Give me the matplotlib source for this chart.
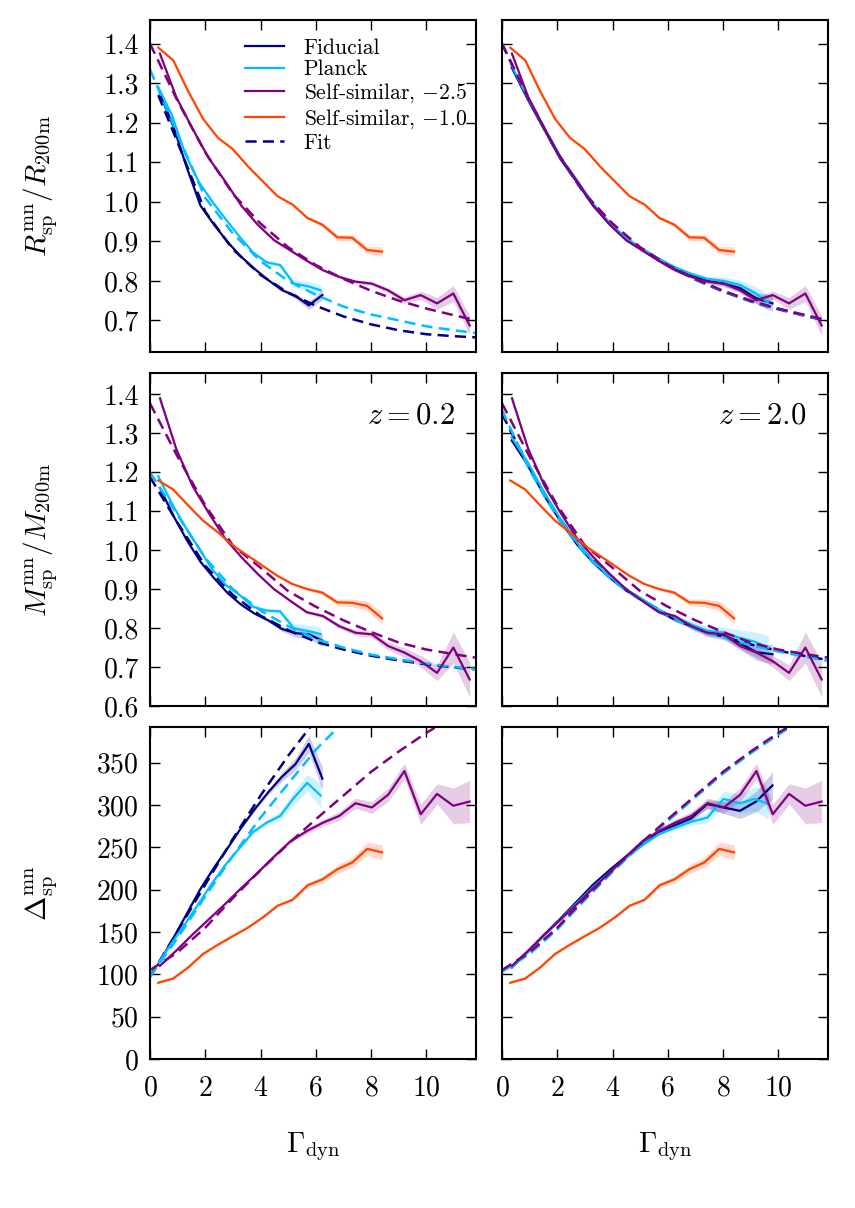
import matplotlib
matplotlib.use("Agg")
import matplotlib.pyplot as plt

plt.rcParams["font.family"] = "serif"
plt.rcParams["font.serif"] = ["cmr10"]
plt.rcParams["mathtext.fontset"] = "cm"
plt.rcParams["axes.formatter.use_mathtext"] = True
plt.rcParams["axes.unicode_minus"] = False
plt.rcParams["lines.scale_dashes"] = False

# --- x grids (Gamma_dyn bin centres) ---
x_fid_lo = [0.36, 0.85, 1.34, 1.83, 2.32, 2.81, 3.30, 3.79, 4.28, 4.77, 5.26, 5.75, 6.24]
x_pl_lo = [0.30, 0.79, 1.28, 1.77, 2.26, 2.75, 3.24, 3.73, 4.22, 4.71, 5.20, 5.69, 6.18]
x_hi = [0.35, 0.94, 1.53, 2.12, 2.71, 3.30, 3.89, 4.48, 5.07, 5.66, 6.25, 6.84, 7.43,
        8.02, 8.61, 9.20, 9.79]
x_pl_hi = [0.35, 0.94, 1.53, 2.12, 2.71, 3.30, 3.89, 4.48, 5.07, 5.66, 6.25, 6.84, 7.43,
           8.02, 8.61, 9.15, 9.64]
x_ss25 = [0.36, 0.95, 1.54, 2.13, 2.72, 3.31, 3.90, 4.49, 5.08, 5.67, 6.26, 6.85, 7.44,
          8.03, 8.62, 9.21, 9.80, 10.39, 10.98, 11.57]
x_ss10 = [0.30, 0.84, 1.38, 1.92, 2.46, 3.00, 3.54, 4.08, 4.62, 5.16, 5.70, 6.24, 6.78,
          7.32, 7.86, 8.40]
x_fit = [0, 1, 2, 3, 4, 5, 6, 7, 8, 9, 10, 11, 11.8]
x_fit_b = [0.3, 1, 2, 3, 4, 5, 6, 7, 8, 9, 10, 11, 11.8]

# --- R_sp / R_200m ---
fid_lo_R = [1.273, 1.19, 1.085, 0.99, 0.942, 0.898, 0.861, 0.83, 0.802, 0.777, 0.762, 0.738, 0.764]
fid_lo_R_err = [0.002] * 9 + [0.004, 0.006, 0.01, 0.012]
pl_lo_R = [1.29, 1.22, 1.12, 1.05, 1.00, 0.955, 0.912, 0.872, 0.847, 0.84, 0.793, 0.787, 0.776]
pl_lo_R_err = [0.002] * 8 + [0.004, 0.005, 0.01, 0.012, 0.013]
fid_hi_R = [1.34, 1.258, 1.183, 1.108, 1.05, 0.99, 0.944, 0.905, 0.878, 0.852, 0.83, 0.814,
            0.80, 0.793, 0.782, 0.756, 0.743]
fid_hi_R_err = [0.002] * 11 + [0.004, 0.006, 0.008, 0.01, 0.015, 0.02]
pl_hi_R = [1.345, 1.262, 1.188, 1.113, 1.055, 0.995, 0.948, 0.909, 0.882, 0.857, 0.835, 0.818,
           0.805, 0.80, 0.79, 0.77, 0.745]
pl_hi_R_err = [0.002] * 11 + [0.005, 0.007, 0.01, 0.012, 0.016, 0.02]
ss25_R = [1.375, 1.265, 1.185, 1.11, 1.052, 0.99, 0.942, 0.903, 0.877, 0.851, 0.827, 0.810,
          0.798, 0.793, 0.776, 0.751, 0.764, 0.743, 0.768, 0.687]
ss25_R_err = [0.003] * 12 + [0.004, 0.005, 0.006, 0.008, 0.01, 0.015, 0.02, 0.025]
ss10_R = [1.39, 1.358, 1.28, 1.21, 1.162, 1.133, 1.09, 1.052, 1.014, 0.993, 0.959, 0.942,
          0.91, 0.909, 0.878, 0.874]
ss10_R_err = [0.002] * 10 + [0.004, 0.005, 0.008, 0.008, 0.01, 0.012]

fit_fid_lo_R = [1.27, 1.15, 0.975, 0.88, 0.815, 0.77, 0.737, 0.71, 0.69, 0.675, 0.665, 0.66, 0.657]
fit_pl_lo_R = [1.335, 1.17, 1.01, 0.92, 0.85, 0.80, 0.765, 0.735, 0.715, 0.70, 0.685, 0.675, 0.668]
fit_ss25_R = [1.40, 1.255, 1.125, 1.02, 0.945, 0.885, 0.84, 0.805, 0.775, 0.75, 0.73, 0.713, 0.70]
fit_fid_hi_R = [1.40, 1.253, 1.123, 1.018, 0.943, 0.883, 0.838, 0.803, 0.773, 0.748, 0.728, 0.711, 0.698]
fit_pl_hi_R = [1.40, 1.254, 1.124, 1.019, 0.944, 0.884, 0.839, 0.804, 0.774, 0.749, 0.729, 0.712, 0.699]

# --- M_sp / M_200m ---
fid_lo_M = [1.16, 1.088, 1.025, 0.97, 0.928, 0.89, 0.86, 0.837, 0.82, 0.798, 0.787, 0.784, 0.768]
fid_lo_M_err = [0.002] * 8 + [0.004, 0.006, 0.01, 0.012, 0.015]
pl_lo_M = [1.19, 1.12, 1.06, 1.005, 0.95, 0.91, 0.885, 0.855, 0.845, 0.843, 0.80, 0.793, 0.785]
pl_lo_M_err = [0.002] * 8 + [0.005, 0.006, 0.012, 0.015, 0.018]
fid_hi_M = [1.282, 1.218, 1.14, 1.074, 1.015, 0.968, 0.93, 0.897, 0.871, 0.843, 0.822, 0.805,
            0.788, 0.782, 0.762, 0.738, 0.733]
fid_hi_M_err = [0.002] * 10 + [0.005, 0.007, 0.01, 0.012, 0.015, 0.02, 0.025]
pl_hi_M = [1.29, 1.225, 1.148, 1.08, 1.02, 0.972, 0.933, 0.90, 0.875, 0.848, 0.828, 0.81,
           0.793, 0.788, 0.775, 0.765, 0.75]
pl_hi_M_err = [0.002] * 10 + [0.006, 0.008, 0.012, 0.015, 0.02, 0.025, 0.03]
ss25_M = [1.39, 1.26, 1.165, 1.095, 1.03, 0.982, 0.939, 0.90, 0.870, 0.841, 0.831, 0.805,
          0.788, 0.784, 0.754, 0.737, 0.715, 0.685, 0.750, 0.668]
ss25_M_err = [0.01, 0.004, 0.003, 0.003, 0.003, 0.003, 0.003, 0.003, 0.003, 0.004, 0.005,
              0.006, 0.007, 0.008, 0.01, 0.012, 0.015, 0.02, 0.04, 0.045]
ss10_M = [1.179, 1.156, 1.115, 1.076, 1.046, 1.012, 0.986, 0.96, 0.934, 0.913, 0.90, 0.891,
          0.866, 0.865, 0.857, 0.825]
ss10_M_err = [0.002] * 10 + [0.004, 0.005, 0.008, 0.01, 0.012, 0.015]

fit_fid_lo_M = [1.188, 1.07, 0.96, 0.885, 0.832, 0.795, 0.765, 0.745, 0.729, 0.717, 0.707, 0.699, 0.694]
fit_pl_lo_M = [1.20, 1.09, 0.98, 0.90, 0.845, 0.805, 0.772, 0.75, 0.732, 0.72, 0.709, 0.700, 0.695]
fit_ss25_M = [1.377, 1.24, 1.115, 1.012, 0.955, 0.895, 0.855, 0.82, 0.79, 0.763, 0.745, 0.733, 0.724]
fit_fid_hi_M = [1.35, 1.21, 1.09, 0.995, 0.925, 0.875, 0.835, 0.80, 0.778, 0.758, 0.742, 0.728, 0.718]
fit_pl_hi_M = [1.36, 1.205, 1.085, 0.99, 0.922, 0.872, 0.832, 0.798, 0.776, 0.756, 0.74, 0.726, 0.716]

# --- Delta_sp ---
fid_lo_D = [115, 143, 172, 201, 226, 249, 273, 295, 315, 333, 348, 372, 331]
fid_lo_D_err = [1] * 7 + [2, 3, 5, 7, 10, 14]
pl_lo_D = [113, 137, 160, 184, 208, 230, 249, 268, 279, 287, 308, 326, 311]
pl_lo_D_err = [1] * 7 + [2, 3, 5, 8, 10, 14]
fid_hi_D = [108, 127, 147, 166, 186, 206, 223, 239, 254, 268, 276, 284, 301, 297, 293, 304, 323]
fid_hi_D_err = [1] * 10 + [2, 3, 5, 7, 9, 12, 16]
pl_hi_D = [108, 126, 146, 165, 184, 203, 220, 237, 252, 265, 273, 280, 285, 307, 302, 307, 301]
pl_hi_D_err = [1] * 10 + [2, 4, 6, 9, 11, 14, 18]
ss25_D = [110, 128, 147, 165, 183, 202, 220, 239, 257, 269, 279, 287, 302, 297, 312, 340, 289,
          313, 299, 304]
ss25_D_err = [1, 1, 1, 1, 1, 1, 1, 2, 2, 3, 4, 5, 6, 7, 8, 9, 12, 12, 21, 25]
ss10_D = [90, 95, 108, 124, 135, 145, 155, 167, 181, 188, 205, 212, 224, 232, 248, 244]
ss10_D_err = [1] * 9 + [2, 3, 4, 5, 6, 8, 9]

x_fit_fid_lo_D = [0, 1, 2, 3, 4, 5, 5.8]
fit_fid_lo_D = [97, 151, 206, 260, 311, 358, 392]
x_fit_pl_lo_D = [0, 1, 2, 3, 4, 5, 6, 7]
fit_pl_lo_D = [97, 143, 192, 240, 285, 325, 365, 398]
x_fit_ss_D = [0, 1, 2, 3, 4, 5, 6, 7, 8, 9, 10, 10.3]
fit_ss25_D = [105, 126, 155, 190, 223, 254, 283, 311, 339, 363, 385, 391]
fit_fid_hi_D = [104, 125, 154, 189, 222, 253, 282, 310, 338, 362, 384, 390]
fit_pl_hi_D = [103, 124, 153, 188, 221, 252, 281, 309, 337, 361, 383, 389]

C_FID = "#000080"
C_PL = "#00bfff"
C_SS25 = "#800080"
C_SS10 = "#ff4500"

LABELS = ["Fiducial", "Planck", r"Self-similar, $-2.5$", r"Self-similar, $-1.0$"]

# each panel: list of (x, y, err, colour, fit_x, fit_y) in drawing order
PANELS = {
    (0, 0): [(x_fid_lo, fid_lo_R, fid_lo_R_err, C_FID, x_fit_b, fit_fid_lo_R),
             (x_pl_lo, pl_lo_R, pl_lo_R_err, C_PL, x_fit, fit_pl_lo_R),
             (x_ss25, ss25_R, ss25_R_err, C_SS25, x_fit, fit_ss25_R),
             (x_ss10, ss10_R, ss10_R_err, C_SS10, None, None)],
    (0, 1): [(x_hi, fid_hi_R, fid_hi_R_err, C_FID, x_fit, fit_fid_hi_R),
             (x_pl_hi, pl_hi_R, pl_hi_R_err, C_PL, x_fit, fit_pl_hi_R),
             (x_ss25, ss25_R, ss25_R_err, C_SS25, x_fit, fit_ss25_R),
             (x_ss10, ss10_R, ss10_R_err, C_SS10, None, None)],
    (1, 0): [(x_fid_lo, fid_lo_M, fid_lo_M_err, C_FID, x_fit, fit_fid_lo_M),
             (x_pl_lo, pl_lo_M, pl_lo_M_err, C_PL, x_fit, fit_pl_lo_M),
             (x_ss25, ss25_M, ss25_M_err, C_SS25, x_fit, fit_ss25_M),
             (x_ss10, ss10_M, ss10_M_err, C_SS10, None, None)],
    (1, 1): [(x_hi, fid_hi_M, fid_hi_M_err, C_FID, x_fit, fit_fid_hi_M),
             (x_pl_hi, pl_hi_M, pl_hi_M_err, C_PL, x_fit, fit_pl_hi_M),
             (x_ss25, ss25_M, ss25_M_err, C_SS25, x_fit, fit_ss25_M),
             (x_ss10, ss10_M, ss10_M_err, C_SS10, None, None)],
    (2, 0): [(x_fid_lo, fid_lo_D, fid_lo_D_err, C_FID, x_fit_fid_lo_D, fit_fid_lo_D),
             (x_pl_lo, pl_lo_D, pl_lo_D_err, C_PL, x_fit_pl_lo_D, fit_pl_lo_D),
             (x_ss25, ss25_D, ss25_D_err, C_SS25, x_fit_ss_D, fit_ss25_D),
             (x_ss10, ss10_D, ss10_D_err, C_SS10, None, None)],
    (2, 1): [(x_hi, fid_hi_D, fid_hi_D_err, C_FID, x_fit_ss_D, fit_fid_hi_D),
             (x_pl_hi, pl_hi_D, pl_hi_D_err, C_PL, x_fit_ss_D, fit_pl_hi_D),
             (x_ss25, ss25_D, ss25_D_err, C_SS25, x_fit_ss_D, fit_ss25_D),
             (x_ss10, ss10_D, ss10_D_err, C_SS10, None, None)],
}

YLIMS = [(0.62, 1.46), (0.6, 1.455), (0, 392)]
YTICKS = [[0.7, 0.8, 0.9, 1.0, 1.1, 1.2, 1.3, 1.4],
          [0.6, 0.7, 0.8, 0.9, 1.0, 1.1, 1.2, 1.3, 1.4],
          [0, 50, 100, 150, 200, 250, 300, 350]]
YLABELS = [r"$R_{\rm sp}^{\rm mn}/R_{\rm 200m}$",
           r"$M_{\rm sp}^{\rm mn}/M_{\rm 200m}$",
           r"$\Delta_{\rm sp}^{\rm mn}$"]
XTICKS = [0, 2, 4, 6, 8, 10]
Z_LABELS = [r"$z = 0.2$", r"$z = 2.0$"]

W, H = 855, 1208
COL_X = [150, 502]
ROW_Y = [(20, 352), (373, 706), (727, 1059)]
AX_W = 326

fig = plt.figure(figsize=(W / 100, H / 100), dpi=100)

for (row, col), curves in PANELS.items():
    top, bottom = ROW_Y[row]
    ax = fig.add_axes([COL_X[col] / W, 1 - bottom / H, AX_W / W, (bottom - top) / H])

    for i, (x, y, err, c, fx, fy) in enumerate(curves):
        lo = [v - e for v, e in zip(y, err)]
        hi = [v + e for v, e in zip(y, err)]
        ax.fill_between(x, lo, hi, color=c, alpha=0.2, lw=0)
        ax.plot(x, y, color=c, lw=1.6, label=LABELS[i])
        if fx is not None:
            ax.plot(fx, fy, color=c, lw=1.8, ls=(0, (8, 4.5)),
                    label="Fit" if i == 0 else None)

    ax.set_xlim(0, 11.8)
    ax.set_ylim(*YLIMS[row])
    ax.set_xticks(XTICKS)
    ax.set_yticks(YTICKS[row])
    ax.tick_params(direction="in", top=True, right=True, length=7, width=1,
                   labelsize=20)
    ax.tick_params(axis="x", pad=12)
    ax.tick_params(axis="y", pad=8)
    for s in ax.spines.values():
        s.set_linewidth(1.5)

    if row < 2:
        ax.yaxis.set_major_formatter(plt.FormatStrFormatter("%.1f"))
    if row == 1:
        ax.text(0.935, 0.872, Z_LABELS[col], transform=ax.transAxes, ha="right",
                va="center", fontsize=22)

    if col == 0:
        ax.set_ylabel(YLABELS[row], fontsize=21)
        ax.yaxis.set_label_coords(-0.275, 0.5)
    else:
        ax.set_yticklabels([])

    if row == 2:
        ax.set_xlabel(r"$\Gamma_{\rm dyn}$", fontsize=21)
        ax.xaxis.set_label_coords(0.5, -0.215)
    else:
        ax.set_xticklabels([])

    if (row, col) == (0, 0):
        h, l = ax.get_legend_handles_labels()
        order = ["Fiducial", "Planck", LABELS[2], LABELS[3], "Fit"]
        hs = [h[l.index(k)] for k in order]
        ax.legend(hs, order, loc="upper left", bbox_to_anchor=(0.29, 0.945),
                  frameon=False, fontsize=15.5, handlelength=1.85,
                  handletextpad=0.9, labelspacing=0.1, borderpad=0,
                  borderaxespad=0)

fig.savefig("out.png", dpi=100)
